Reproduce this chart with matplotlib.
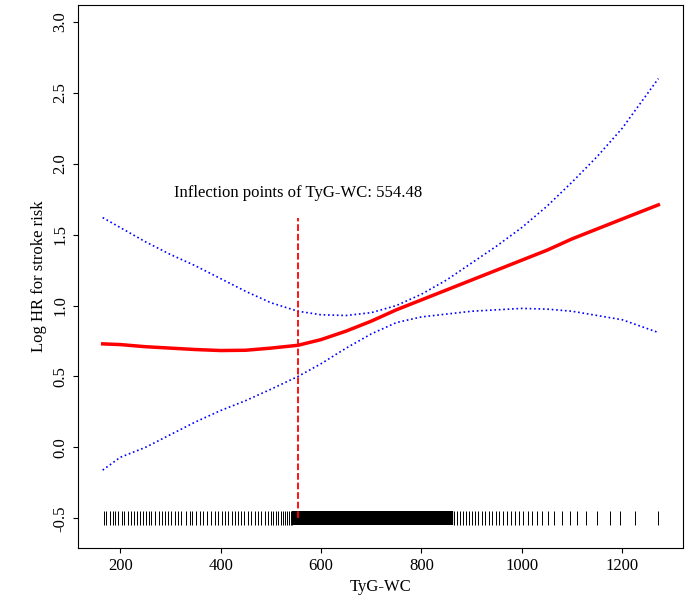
import matplotlib
matplotlib.use("Agg")
import matplotlib.pyplot as plt

# spline estimate and 95% CI
x_fit = [165, 200, 250, 300, 350, 400, 450, 500, 554, 600, 650, 700, 750, 800, 850, 900,
         950, 1000, 1050, 1100, 1150, 1200, 1272]
y_fit = [0.73, 0.725, 0.71, 0.70, 0.69, 0.683, 0.685, 0.70, 0.72, 0.76, 0.82, 0.89, 0.97,
         1.04, 1.11, 1.18, 1.25, 1.32, 1.39, 1.47, 1.54, 1.61, 1.71]
y_upper = [1.62, 1.55, 1.45, 1.36, 1.28, 1.19, 1.10, 1.02, 0.96, 0.935, 0.93, 0.95, 1.00,
           1.08, 1.18, 1.30, 1.42, 1.55, 1.70, 1.87, 2.05, 2.25, 2.60]
y_lower = [-0.16, -0.07, 0.00, 0.09, 0.18, 0.26, 0.33, 0.41, 0.50, 0.59, 0.70, 0.80, 0.88,
           0.92, 0.94, 0.96, 0.97, 0.98, 0.975, 0.96, 0.93, 0.90, 0.81]

inflection = 554.48

# observed TyG-WC values (rug)
rug_sparse = [168, 172, 180, 186, 190, 196, 203, 208, 215, 221, 228, 233, 240, 246, 252,
              258, 262, 270, 277, 283, 290, 296, 301, 309, 316, 322, 330, 338, 343, 351,
              358, 364, 372, 380, 388, 395, 402, 409, 415, 422, 428, 434, 440, 447, 455,
              461, 468, 475, 481, 488, 494, 500, 505, 510, 515, 520, 524, 528, 532, 536,
              540, 543, 865, 870, 876, 882, 888, 894, 900, 907, 913, 920, 927, 934, 941,
              948, 955, 962, 970, 978, 986, 995, 1003, 1012, 1020, 1030, 1040, 1052, 1065,
              1080, 1095, 1110, 1128, 1150, 1175, 1195, 1225, 1272]
rug_dense = [545, 548, 551, 554, 557, 560, 563, 566, 569, 572, 575, 578, 581, 584, 587,
             590, 593, 596, 599, 602, 605, 608, 611, 614, 617, 620, 623, 626, 629, 632,
             635, 638, 641, 644, 647, 650, 653, 656, 659, 662, 665, 668, 671, 674, 677,
             680, 683, 686, 689, 692, 695, 698, 701, 704, 707, 710, 713, 716, 719, 722,
             725, 728, 731, 734, 737, 740, 743, 746, 749, 752, 755, 758, 761, 764, 767,
             770, 773, 776, 779, 782, 785, 788, 791, 794, 797, 800, 803, 806, 809, 812,
             815, 818, 821, 824, 827, 830, 833, 836, 839, 842, 845, 848, 851, 854, 857, 860]

x_ticks = [200, 400, 600, 800, 1000, 1200]
y_ticks = [-0.5, 0.0, 0.5, 1.0, 1.5, 2.0, 2.5, 3.0]

plt.rcParams["font.family"] = "Liberation Serif"
plt.rcParams["font.size"] = 12

fig = plt.figure(figsize=(6.85, 6.07), dpi=100)
ax = fig.add_axes([0.114, 0.097, 0.883, 0.895])

ax.vlines(rug_sparse, -0.55, -0.45, color="black", lw=0.7)
ax.vlines(rug_dense, -0.55, -0.45, color="black", lw=1.6)
ax.plot(x_fit, y_upper, color="blue", ls=":", lw=1.2)
ax.plot(x_fit, y_lower, color="blue", ls=":", lw=1.2)
ax.plot(x_fit, y_fit, color="red", lw=2.5)
ax.vlines(inflection, -0.5, 1.62, color="red", ls="--", lw=1.3)
ax.text(inflection, 1.74, f"Inflection points of TyG-WC: {inflection:.2f}",
        ha="center", va="bottom", fontsize=12)

ax.set_xlim(116, 1321)
ax.set_ylim(-0.71, 3.12)
ax.set_xticks(x_ticks)
ax.set_yticks(y_ticks, [f"{v:.1f}" for v in y_ticks], rotation=90, va="center")
ax.set_xlabel("TyG-WC")
ax.set_ylabel("Log HR for stroke risk")

fig.savefig("out.png", dpi=100)
